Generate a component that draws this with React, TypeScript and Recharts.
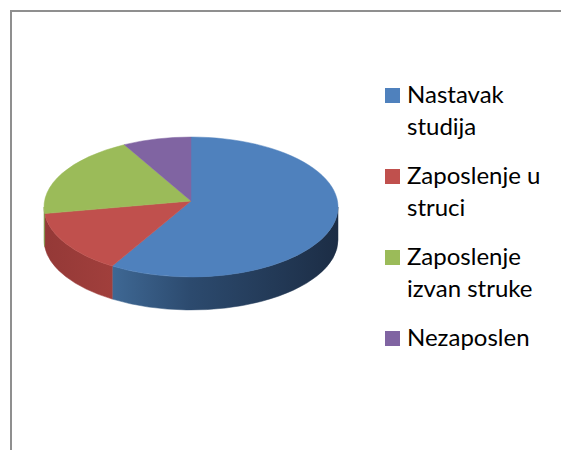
import React from "react";
import { PieChart, Pie, Cell, Legend } from "recharts";

const categories = ["Nastavak studija", "Zaposlenje u struci", "Zaposlenje izvan struke", "Nezaposlen"];
const values = [59, 14.5, 19, 7.5];

const topColors = ["#4F81BD", "#C0504D", "#9BBB59", "#8064A2"];
// side wall shading, left -> right
const sideColors = [
  ["#4D7AAE", "#3E6793", "#2C4A6E", "#1C2D45"],
  ["#943937", "#A13F3C", "#AC4542", "#B04744"],
  ["#7C9847", "#85A24C", "#8CA950", "#8CA950"],
  ["#66508A", "#5E4A80", "#4E3D6B", "#3E3056"],
];

const data = categories.map((name, i) => ({ name, value: values[i] }));

const TILT = 0.476;
const DEPTH = 33;
const APEX_LIFT = 6; // fake perspective: slice apex sits a bit above the ellipse centre
const RAD = Math.PI / 180;

function Slice3D(props: any) {
  const { cx, cy, outerRadius, startAngle, endAngle, fill } = props;
  const name = props.name ?? props.payload?.name;
  const idx = Math.max(0, categories.indexOf(name));
  const rx = outerRadius;
  const ry = outerRadius * TILT;
  const pt = (a: number) => [cx + rx * Math.cos(a * RAD), cy - ry * Math.sin(a * RAD)];
  const hi = Math.max(startAngle, endAngle);
  const lo = Math.min(startAngle, endAngle);
  const large = hi - lo > 180 ? 1 : 0;
  const [hx, hy] = pt(hi);
  const [lx, ly] = pt(lo);
  const top = `M${cx},${cy - APEX_LIFT} L${hx},${hy} A${rx},${ry} 0 ${large} 1 ${lx},${ly} Z`;

  const sides: string[] = [];
  for (const n of [-1, 0, 1]) {
    const a1 = Math.max(lo, -180 + 360 * n);
    const a2 = Math.min(hi, 360 * n);
    if (a2 - a1 > 0.01) {
      const [x1, y1] = pt(a1);
      const [x2, y2] = pt(a2);
      sides.push(
        `M${x2},${y2} A${rx},${ry} 0 0 1 ${x1},${y1} L${x1},${y1 + DEPTH} A${rx},${ry} 0 0 0 ${x2},${y2 + DEPTH} Z`
      );
    }
  }
  const gid = `side-grad-${idx}`;
  const sc = sideColors[idx];

  return (
    <g>
      <defs>
        <linearGradient id={gid} gradientUnits="userSpaceOnUse" x1={cx - rx} y1={0} x2={cx + rx} y2={0}>
          <stop offset="0%" stopColor={sc[0]} />
          <stop offset="24%" stopColor={sc[1]} />
          <stop offset="50%" stopColor={sc[2]} />
          <stop offset="100%" stopColor={sc[3]} />
        </linearGradient>
      </defs>
      {sides.map((d, i) => (
        <path key={i} d={d} fill={`url(#${gid})`} stroke={`url(#${gid})`} strokeWidth={0.5} />
      ))}
      <path d={top} fill={fill} stroke={fill} strokeWidth={0.5} />
    </g>
  );
}

function renderLegend() {
  return (
    <div style={{ fontFamily: "Lato, 'Noto Sans', sans-serif", fontSize: 24, lineHeight: "32px", color: "#000" }}>
      {categories.map((name, i) => (
        <div key={name} style={{ display: "flex", alignItems: "flex-start", marginBottom: 17 }}>
          <div style={{ width: 15, height: 15, background: topColors[i], marginTop: 10, flexShrink: 0 }} />
          <div style={{ marginLeft: 7, width: 150 }}>{name}</div>
        </div>
      ))}
    </div>
  );
}

export default function App() {
  return (
    <div style={{ position: "absolute", left: 0, top: 0, width: 561, height: 450, background: "#fff", overflow: "hidden" }}>
      <div
        style={{
          position: "absolute",
          left: 10,
          top: 10,
          width: 560,
          height: 450,
          borderTop: "2px solid #8f8f8f",
          borderLeft: "2px solid #8f8f8f",
        }}
      />
      <div style={{ position: "absolute", left: 0, top: 0 }}>
        <PieChart width={561} height={450} margin={{ top: 0, right: 0, bottom: 0, left: 0 }}>
          <Pie
            data={data}
            dataKey="value"
            nameKey="name"
            cx={191}
            cy={207}
            outerRadius={147}
            startAngle={90}
            endAngle={-270}
            stroke="none"
            isAnimationActive={false}
            shape={Slice3D}
            activeShape={Slice3D}
            inactiveShape={Slice3D}
          >
            {data.map((d, i) => (
              <Cell key={d.name} fill={topColors[i]} />
            ))}
          </Pie>
          <Legend
            layout="vertical"
            align="right"
            verticalAlign="top"
            content={renderLegend}
            wrapperStyle={{ position: "absolute", left: 385, top: 78, width: 176 }}
          />
        </PieChart>
      </div>
    </div>
  );
}
